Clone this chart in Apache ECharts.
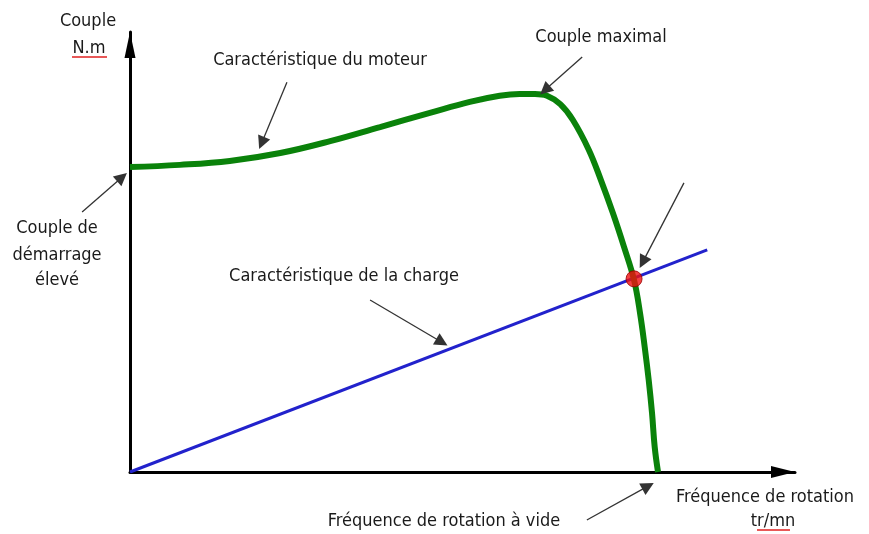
<!DOCTYPE html>
<html>
<head>
<meta charset="utf-8">
<script src="https://cdn.jsdelivr.net/npm/echarts@6/dist/echarts.min.js"></script>
<style>html,body{margin:0;padding:0;background:#fff}#c{width:869px;height:534px}</style>
</head>
<body>
<div id="c"></div>
<script>
// Motor torque characteristic (x: rotation speed %, y: torque %)
const motorX = [0, 7.5, 15.0, 22.6, 30.1, 37.6, 45.1, 51.1, 55.6, 58.6, 60.9, 62.7, 64.7, 66.6, 69.0, 70.8, 72.6, 74.3, 75.8, 76.7, 77.4, 78.0, 78.5, 78.9, 79.4];
const motorY = [69.3, 69.8, 70.7, 72.5, 75.2, 78.4, 81.6, 84.1, 85.5, 85.9, 85.9, 85.5, 83.6, 80.0, 73.2, 66.4, 58.9, 51.1, 43.6, 36.1, 28.4, 20.9, 13.4, 5.7, 0];
// Load characteristic
const loadX = [0, 86.8];
const loadY = [0, 50.5];
// Operating point
const opPoint = [75.8, 43.9];
// Annotation arrows [from, to]
const arrowFrom = [[23.6, 88.6], [68.0, 94.3], [-7.2, 59.1], [83.3, 65.7], [36.1, 39.1], [68.7, -10.9]];
const arrowTo   = [[19.8, 74.8], [62.4, 86.8], [-1.2, 67.0], [77.1, 47.7], [46.9, 29.5], [77.9, -3.2]];

const FONT = '18px "Liberation Sans Narrow", "DejaVu Sans Condensed", "Arial Narrow", sans-serif';
const TXT = '#1a1a1a';
function t(text, x, y) {
  return { type: 'text', style: { text: text, x: x, y: y, font: FONT, fill: TXT, textAlign: 'center', textVerticalAlign: 'middle' } };
}
function redLine(x1, x2, y) {
  return { type: 'line', shape: { x1: x1, y1: y, x2: x2, y2: y }, style: { stroke: '#e02020', lineWidth: 1.5 } };
}

const chart = echarts.init(document.getElementById('c'), null, { renderer: 'canvas' });
chart.setOption({
  animation: false,
  backgroundColor: '#fff',
  grid: { left: 130, right: 74, top: 32, bottom: 62 },
  xAxis: {
    type: 'value', min: 0, max: 100,
    axisLine: { show: true, onZero: false, lineStyle: { color: '#000', width: 3 }, symbol: ['none', 'triangle'], symbolSize: [12, 24], symbolOffset: [0, -12] },
    axisTick: { show: false }, axisLabel: { show: false }, splitLine: { show: false }
  },
  yAxis: {
    type: 'value', min: 0, max: 100,
    axisLine: { show: true, onZero: false, lineStyle: { color: '#000', width: 3 }, symbol: ['none', 'triangle'], symbolSize: [11, 26], symbolOffset: [0, -13] },
    axisTick: { show: false }, axisLabel: { show: false }, splitLine: { show: false }
  },
  series: [
    {
      type: 'line', name: 'moteur', data: motorX.map((x, i) => [x, motorY[i]]),
      smooth: 0.4, showSymbol: false, lineStyle: { color: '#0a820a', width: 6 }, z: 3
    },
    {
      type: 'line', name: 'charge', data: loadX.map((x, i) => [x, loadY[i]]),
      showSymbol: false, lineStyle: { color: '#2222cc', width: 3 }, z: 2
    },
    {
      type: 'scatter', data: [opPoint], symbolSize: 16,
      itemStyle: { color: '#f01010', borderColor: '#990000', borderWidth: 1 }, z: 5
    },
    {
      type: 'lines', coordinateSystem: 'cartesian2d', clip: false,
      symbol: ['none', 'triangle'], symbolSize: [8, 13],
      lineStyle: { color: '#333', width: 1.3, opacity: 1 },
      itemStyle: { color: '#111' },
      data: arrowFrom.map((f, i) => ({ coords: [f, arrowTo[i]] })), z: 6
    }
  ],
  graphic: [
    t('Couple', 88, 21),
    t('N.m', 89, 48),
    redLine(72, 107, 57),
    t('Caractéristique du moteur', 320, 60),
    t('Couple maximal', 601, 37),
    t('Couple de', 57, 228),
    t('démarrage', 57, 255),
    t('élevé', 57, 280),
    t('Caractéristique de la charge', 344, 276),
    t('Fréquence de rotation', 765, 497),
    t('tr/mn', 773, 521),
    redLine(757, 790, 530),
    t('Fréquence de rotation à vide', 444, 521)
  ]
});
</script>
</body>
</html>
